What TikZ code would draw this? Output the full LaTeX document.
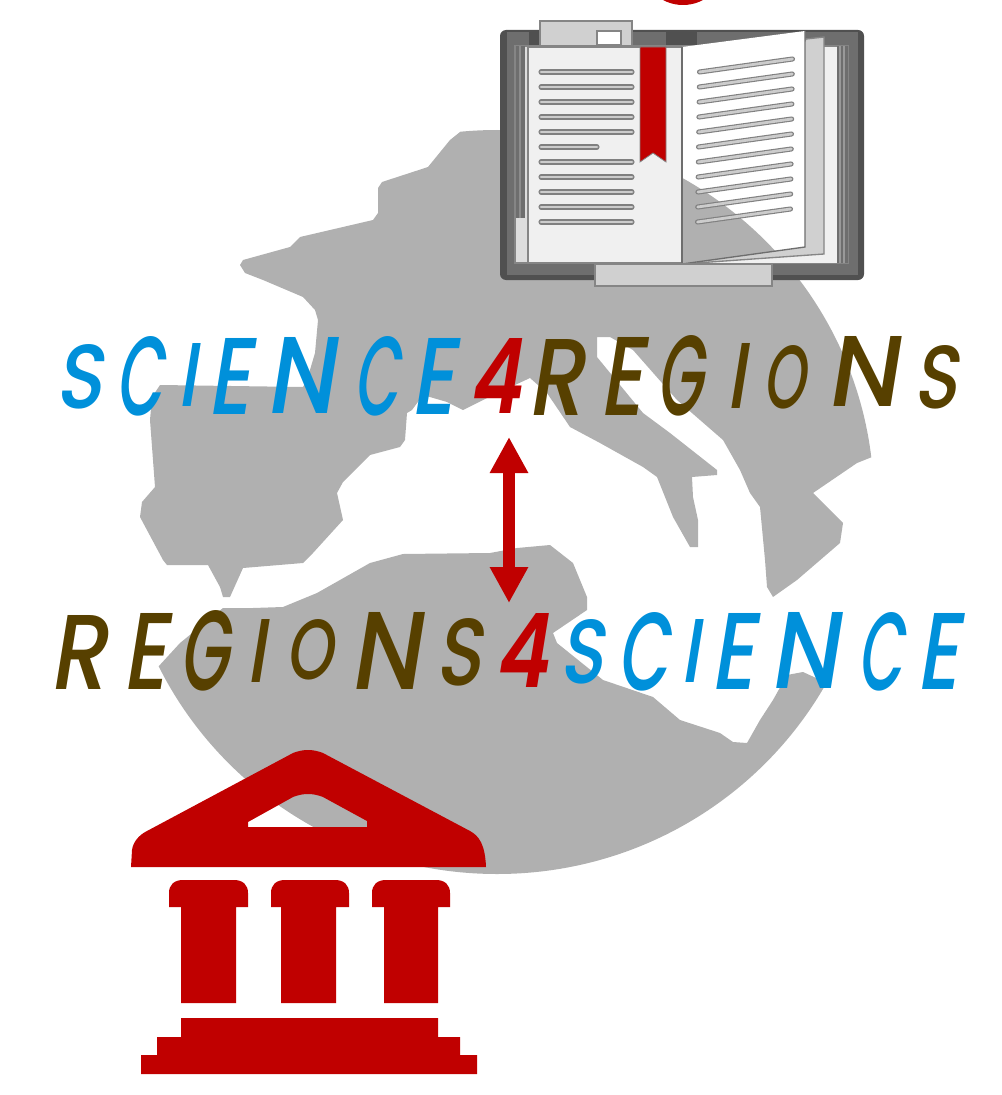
\documentclass[tikz,border=0pt]{standalone}
\usepackage{fontspec}
\usepackage{graphicx}
\newfontface\wordface{Poppins Medium}
\newfontface\fourface{Poppins SemiBold}
\usetikzlibrary{arrows.meta}
\definecolor{landgray}{HTML}{B0B0B0}
\definecolor{deepred}{HTML}{C00000}
\definecolor{sciblue}{HTML}{0090DA}
\definecolor{regbrown}{HTML}{574000}
\definecolor{coverdark}{HTML}{505050}
\definecolor{covermid}{HTML}{6E6E6E}
\definecolor{edgegray}{HTML}{858585}
\definecolor{tabgray}{HTML}{D0D0D0}
\definecolor{pagegray}{HTML}{F0F0F0}
\newlength\pxu \pxu=0.75pt
\def\xo{0}\def\yo{0}
% one letter placed by its slanted ink box in reference pixels, inside a single sheared text node
\newcommand\glyphat[6]{\rlap{\kern\dimexpr\numexpr((#1-\xo)*100-16*(\yo-#4)-300)/100\relax\pxu\relax\raisebox{\dimexpr\numexpr\yo-#4\relax\pxu\relax}{\resizebox{\dimexpr\numexpr(#3-#1)-(#4-#2)*16/100+6\relax\pxu\relax}{\dimexpr\numexpr#4-#2\relax\pxu\relax}{\textcolor{#5}{#6}}}}}
\newcommand\lsci[5]{\glyphat{#1}{#2}{#3}{#4}{sciblue}{\wordface #5}}
\newcommand\lreg[5]{\glyphat{#1}{#2}{#3}{#4}{regbrown}{\wordface #5}}
\newcommand\lfour[4]{\glyphat{#1}{#2}{#3}{#4}{deepred}{\fourface 4}}
\tikzset{
  land/.style={fill=landgray,draw=none},
  bookedge/.style={draw=edgegray,line width=1pt},
  wordnode/.style={anchor=base west,inner sep=0pt,outer sep=0pt,transform shape},
  twoway/.style={draw=deepred,line width=9pt,{Triangle[length=27pt,width=27pt,fill=deepred]}-{Triangle[length=27pt,width=27pt,fill=deepred]}},
}
\newcommand\textrule[2]{%
  \draw[line cap=round,line width=3.8pt,draw=black!50] #1 -- #2;
  \draw[line cap=round,line width=2.1pt,draw=black!20] #1 -- #2;}
\begin{document}
\begin{tikzpicture}[x=0.75pt,y=-0.75pt]
\useasboundingbox (0,0) rectangle (1001,1095);
% globe
\begin{scope}
\clip (497,502) ellipse [x radius=377,y radius=372];
\fill[land] (460,100) -- (460,132) -- (450,140) -- (428,167) -- (382,182) -- (378,188) -- (378,213) -- (373,220) -- (300,237) -- (290,247) -- (243,260) -- (240,265) -- (245,273) -- (263,280) -- (303,297) -- (315,310) -- (318,320) -- (315,353) -- (307,380) -- (303,387) -- (160,385) -- (152,397) -- (150,420) -- (155,487) -- (142,502) -- (140,517) -- (163,560) -- (167,565) -- (208,565) -- (220,587) -- (223,597) -- (230,597) -- (243,568) -- (303,563) -- (313,553) -- (343,520) -- (337,493) -- (343,482) -- (370,455) -- (400,447) -- (405,440) -- (407,413) -- (412,410) -- (423,395) -- (447,402) -- (463,410) -- (487,398) -- (500,392) -- (530,378) -- (547,393) -- (570,427) -- (600,443) -- (643,467) -- (657,477) -- (673,517) -- (690,547) -- (698,547) -- (698,520) -- (693,497) -- (692,477) -- (717,475) -- (717,470) -- (670,433) -- (643,413) -- (597,357) -- (597,337) -- (610,337) -- (633,350) -- (677,400) -- (723,440) -- (740,470) -- (750,493) -- (760,507) -- (765,560) -- (767,587) -- (773,597) -- (797,580) -- (840,543) -- (843,523) -- (813,493) -- (857,463) -- (872,457) -- (900,455) -- (900,100) -- cycle;
\fill[land] (100,667) -- (158,667) -- (180,643) -- (223,608) -- (253,608) -- (283,607) -- (317,593) -- (370,563) -- (403,554) -- (490,553) -- (517,548) -- (550,545) -- (573,563) -- (587,597) -- (587,610) -- (553,633) -- (557,643) -- (603,680) -- (653,697) -- (680,720) -- (720,733) -- (733,742) -- (747,743) -- (760,720) -- (773,700) -- (787,675) -- (803,672) -- (827,683) -- (900,700) -- (900,900) -- (100,900) -- cycle;
\end{scope}
% partial disc at the top edge
\fill[deepred] (683,-37.5) circle [radius=42.5];
% book cover
\fill[coverdark,rounded corners=4.5pt] (500,30) rectangle (864,280);
\fill[covermid] (507,32) rectangle (858,275);
\fill[coverdark] (529,32) rectangle (540,46);
\fill[coverdark] (666,32) rectangle (697,46);
\draw[bookedge,fill=tabgray] (540,21) rectangle (632,46);
\draw[bookedge,fill=white] (597,31) rectangle (621,45);
% page block
\draw[bookedge,fill=pagegray!92!black] (515,46) rectangle (848,263);
\fill[pagegray] (682,47) rectangle (837,263);
\fill[covermid] (516,46) rectangle (525,218);
\draw[black!45,line width=0.8pt] (520,46) -- (520,218);
\fill[covermid] (837,46) rectangle (848,263);
\draw[black!40,line width=0.8pt] (840,46) -- (840,263);
\draw[black!40,line width=0.8pt] (844,46) -- (844,263);
% left page
\draw[bookedge,fill=pagegray] (528,47) rectangle (682,263);
\fill[deepred,draw=edgegray,line width=0.6pt] (640,47) -- (666,47) -- (666,162) -- (653,153) -- (640,162) -- cycle;
\foreach \k in {0,1,2,3,4,6,7,8,9,10}{
  \textrule{(541,72+15*\k)}{(632,72+15*\k)}
}
\textrule{(541,147)}{(597,147)}
% turned pages
\draw[bookedge,fill=tabgray] (682,264) -- (824,254) -- (824,37) -- (806,39) -- cycle;
\fill[white] (682,47) -- (805,31) -- (805,247) -- (682,264) -- cycle;
\begin{scope}
\clip (682,47) -- (805,31) -- (805,247) -- (682,264) -- cycle;
\fill[land] (497,502) ellipse [x radius=377,y radius=372];
\end{scope}
\draw[covermid,line width=1pt] (682,264) -- (682,47);
\draw[covermid,line width=1pt] (682,264) -- (805,247) -- (805,31);
\foreach \k in {0,...,10}{
  \textrule{(699.5-0.2*\k,72+15*\k)}{(792.5-0.2*\k,59+15*\k)}
}
\draw[bookedge,fill=tabgray] (595,264) rectangle (772,286);
% the two wordings
\begin{scope}[shift={(58,415)},xslant=0.16]
\node[wordnode] (topword) at (0,0) {\def\xo{58}\def\yo{415}\rule{0pt}{59.25pt}%
\lsci{58}{344}{109}{408}{S}\lsci{118}{336}{172}{415}{C}\lsci{180}{343}{203}{406}{I}\lsci{210}{338}{259}{414}{E}\lsci{268}{337}{343}{413}{N}\lsci{355}{336}{407}{415}{C}\lsci{413}{338}{463}{414}{E}\lfour{471}{338}{529}{413}\lreg{530}{339}{592}{415}{R}\lreg{603}{337}{652}{415}{E}\lreg{658}{335}{711}{415}{G}\lreg{729}{343}{752}{408}{I}\lreg{765}{345}{811}{408}{O}\lreg{829}{337}{906}{407}{N}\lreg{916}{345}{964}{408}{S}\kern680pt};
\end{scope}
\begin{scope}[shift={(52,690)},xslant=0.16]
\node[wordnode] (botword) at (0,0) {\def\xo{52}\def\yo{690}\rule{0pt}{60pt}%
\lreg{52}{615}{115}{689}{R}\lreg{125}{613}{175}{689}{E}\lreg{181}{610}{237}{690}{G}\lreg{249}{619}{272}{682}{I}\lreg{289}{619}{340}{679}{O}\lreg{352}{612}{429}{689}{N}\lreg{439}{618}{490}{685}{S}\lfour{497}{613}{556}{687}\lsci{562}{619}{610}{683}{S}\lsci{619}{612}{676}{690}{C}\lsci{683}{619}{706}{682}{I}\lsci{713}{613}{763}{689}{E}\lsci{772}{612}{847}{688}{N}\lsci{859}{612}{910}{690}{C}\lsci{919}{613}{967}{689}{E}\kern686pt};
\end{scope}
% double arrow
\coordinate (arrowtop) at (509,437);
\coordinate (arrowbot) at (509,603);
\draw[twoway] (arrowtop) -- (arrowbot);
% temple
\fill[deepred,even odd rule] (131,867) -- (132,850) .. controls (133,842) and (139,835) .. (147,831) -- (293,753) .. controls (303,749) and (313,749) .. (323,753) -- (470,831) .. controls (479,836) and (485,844) .. (486,867) -- cycle
 (248,827) -- (248,822) -- (293,797) .. controls (303,793) and (313,793) .. (323,797) -- (367,821) -- (367,827) -- cycle;
\foreach \a/\b/\c/\d in {169/248/181/236,271/349/281/336,372/450/384/438}{
  \fill[deepred] (\a,907) -- (\a,893) .. controls (\a,885) and (\a+5,880) .. (\a+14,880) -- (\b-14,880) .. controls (\b-5,880) and (\b,885) .. (\b,893) -- (\b,907) -- (\d,907) -- (\d,1003) -- (\c,1003) -- (\c,907) -- cycle;
}
\fill[deepred] (181,1018) -- (438,1018) -- (438,1037) -- (460,1037) -- (460,1055) -- (477,1055) -- (477,1074) -- (141,1074) -- (141,1055) -- (157,1055) -- (157,1037) -- (181,1037) -- cycle;
\end{tikzpicture}
\end{document}
